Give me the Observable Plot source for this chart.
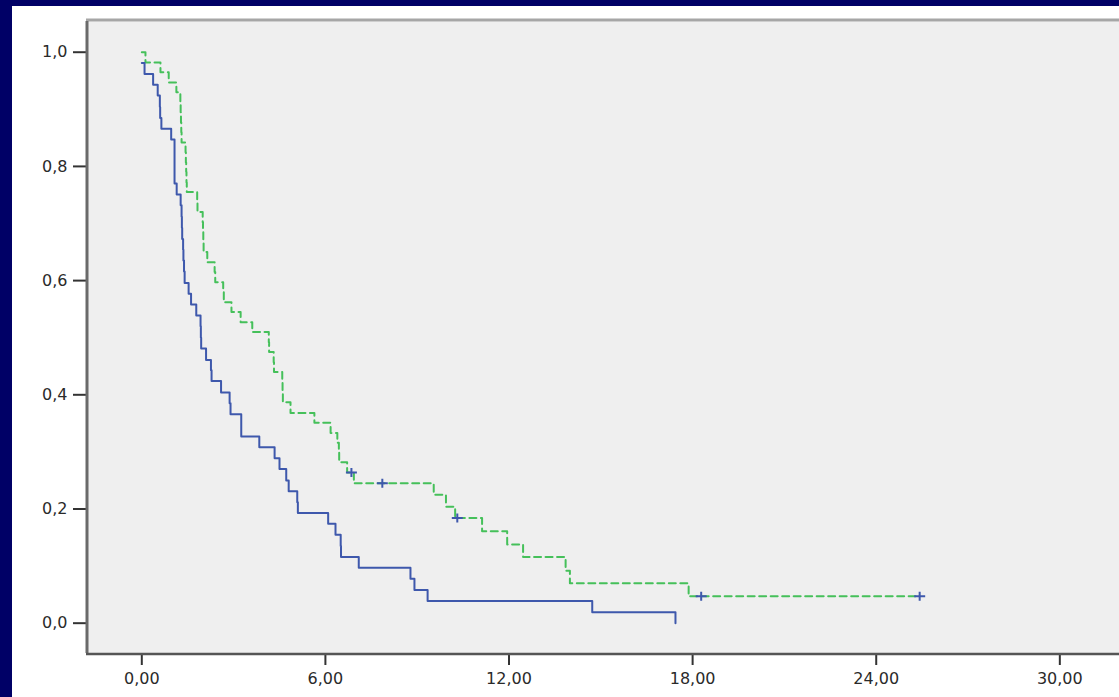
<!DOCTYPE html>
<html><head><meta charset="utf-8">
<script src="https://cdn.jsdelivr.net/npm/d3@7"></script>
<script src="https://cdn.jsdelivr.net/npm/@observablehq/plot@0.6"></script>
<style>
html,body{margin:0;padding:0;background:#000066;width:1119px;height:697px;overflow:hidden}
#panel{position:absolute;left:12px;top:6px;width:1107px;height:691px;background:#ffffff}
</style></head><body><div id="panel"></div>
<script>
// ---- data ----
const blueTime = [0, 0.09, 0.37, 0.52, 0.59, 0.60, 0.64, 0.96, 1.07, 1.14, 1.27, 1.30, 1.31, 1.32, 1.35, 1.36, 1.38, 1.40, 1.53, 1.61, 1.78, 1.92, 1.93, 1.94, 2.10, 2.26, 2.28, 2.59, 2.87, 2.90, 3.25, 3.84, 4.34, 4.50, 4.72, 4.80, 5.08, 5.10, 6.09, 6.33, 6.50, 6.51, 7.09, 8.78, 8.91, 9.34, 14.72, 17.44];
const blueSurv = [0.981, 0.962, 0.943, 0.924, 0.904, 0.885, 0.866, 0.847, 0.770, 0.751, 0.732, 0.712, 0.692, 0.673, 0.654, 0.635, 0.616, 0.596, 0.577, 0.558, 0.539, 0.520, 0.500, 0.481, 0.461, 0.443, 0.424, 0.404, 0.385, 0.366, 0.327, 0.308, 0.289, 0.270, 0.250, 0.231, 0.212, 0.193, 0.174, 0.155, 0.135, 0.116, 0.097, 0.078, 0.058, 0.039, 0.019, 0.0];
const greenTime = [0, 0.12, 0.61, 0.88, 1.13, 1.26, 1.27, 1.28, 1.29, 1.30, 1.43, 1.44, 1.45, 1.46, 1.47, 1.81, 1.82, 1.99, 2.00, 2.01, 2.02, 2.14, 2.38, 2.40, 2.66, 2.68, 2.93, 3.23, 3.61, 4.15, 4.16, 4.31, 4.32, 4.59, 4.60, 4.61, 4.86, 5.64, 6.17, 6.39, 6.44, 6.45, 6.71, 6.93, 9.54, 9.94, 10.24, 11.12, 11.94, 12.46, 13.85, 13.99, 17.87, 25.42];
const greenSurv = [1.0, 0.982, 0.965, 0.947, 0.930, 0.912, 0.895, 0.877, 0.860, 0.842, 0.825, 0.807, 0.790, 0.772, 0.755, 0.737, 0.720, 0.702, 0.685, 0.667, 0.650, 0.632, 0.615, 0.597, 0.580, 0.562, 0.545, 0.527, 0.510, 0.492, 0.475, 0.457, 0.440, 0.422, 0.405, 0.387, 0.368, 0.351, 0.333, 0.316, 0.299, 0.282, 0.264, 0.245, 0.225, 0.204, 0.184, 0.161, 0.138, 0.116, 0.092, 0.070, 0.047, 0.047];
const censorTime = [6.85, 7.86, 10.31, 18.28, 25.42];
const censorSurv = [0.264, 0.245, 0.184, 0.047, 0.047];
const xTicks = [0, 6, 12, 18, 24, 30];
const yTicks = [0, 0.2, 0.4, 0.6, 0.8, 1.0];

// ---- layout ----
const xDomain = [-1.807, 31.95];
const yDomain = [-0.0531, 1.0538];
const blueColor = "#3e58ac";
const greenColor = "#45c05a";

const blue = blueTime.map((t, i) => ({t, s: blueSurv[i]}));
const green = greenTime.map((t, i) => ({t, s: greenSurv[i]}));
const censored = censorTime.map((t, i) => ({t, s: censorSurv[i]}));

const comma = f => v => d3.format(f)(v).replace(".", ",");
const plusSymbol = {
  draw(ctx) {
    ctx.moveTo(-5.5, 0); ctx.lineTo(5.5, 0);
    ctx.moveTo(0, -4.5); ctx.lineTo(0, 4.5);
  }
};

const chart = Plot.plot({
  width: 1107,
  height: 691,
  marginLeft: 74,
  marginRight: 0,
  marginTop: 15,
  marginBottom: 44,
  style: {background: "transparent", fontFamily: "DejaVu Sans", fontSize: "16px", color: "#222"},
  x: {domain: xDomain, label: null},
  y: {domain: yDomain, label: null},
  marks: [
    Plot.frame({fill: "#efefef", stroke: null}),
    Plot.ruleY([yDomain[1]], {stroke: "#a6a6a6", strokeWidth: 3, dy: -1.5}),
    Plot.axisX(xTicks, {tickFormat: comma(".2f"), tickSize: 12, tickPadding: 7, stroke: "#333", strokeWidth: 2, fill: "#2a2a2a", label: null}),
    Plot.axisY(yTicks, {tickFormat: comma(".1f"), tickSize: 13, tickPadding: 6, stroke: "#333", strokeWidth: 2, fill: "#2a2a2a", label: null}),
    Plot.ruleX([xDomain[0]], {stroke: "#6a6a6a", strokeWidth: 3, dx: 0.5}),
    Plot.ruleY([yDomain[0]], {stroke: "#555", strokeWidth: 2.5, dy: 0.5}),
    Plot.line(green, {x: "t", y: "s", curve: "step-after", stroke: greenColor, strokeWidth: 2, strokeDasharray: "7,4.5"}),
    Plot.line(blue, {x: "t", y: "s", curve: "step-after", stroke: blueColor, strokeWidth: 2}),
    Plot.dot(censored, {x: "t", y: "s", symbol: plusSymbol, fill: "none", stroke: blueColor, strokeWidth: 2, r: 5})
  ]
});
document.getElementById("panel").appendChild(chart);
</script>
</body></html>
